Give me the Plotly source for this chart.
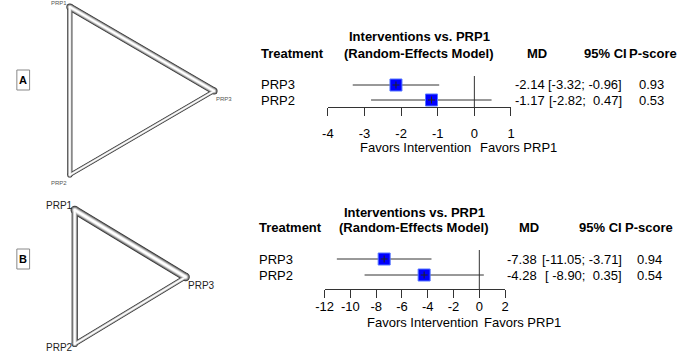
import plotly.graph_objects as go

W, H = 685, 354

# ---------------- data ----------------
treatments = ["PRP3", "PRP2"]
row_pos = [2, 1]

md_a = [-2.14, -1.17]
lo_a = [-3.32, -2.82]
hi_a = [-0.96, 0.47]
pscore_a = [0.93, 0.53]
ticks_a = [-4, -3, -2, -1, 0, 1]
ticklabels_a = ["-4", "-3", "-2", "-1", "0", "1"]

md_b = [-7.38, -4.28]
lo_b = [-11.05, -8.90]
hi_b = [-3.71, 0.35]
pscore_b = [0.94, 0.54]
ticks_b = [-12, -10, -8, -6, -4, -2, 0, 2]
ticklabels_b = ["-12", "-10", "-8", "-6", "-4", "-2", "0", "2"]

nodes = ["PRP1", "PRP2", "PRP3"]
node_x = [0.0, 0.0, 0.866]
node_y = [0.5, -0.5, 0.0]
edges = [(0, 2), (0, 1), (1, 2)]
edge_w_a = [7.0, 5.2, 3.8]
edge_w_b = [8.4, 6.2, 4.6]

# ---------------- helpers ----------------
def px(x):
    return x / W

def py(y):
    return 1 - y / H

def axis_from_pixels(p0, p1, v0, v1, d0, d1):
    s = (v1 - v0) / (p1 - p0)
    return [v0 + (d0 - p0) * s, v0 + (d1 - p0) * s]

FONT = "Liberation Sans, Arial, sans-serif"
fig = go.Figure()
ann = []
shapes = []

def fmt_col(vals):
    s = [f"{v:.2f}" for v in vals]
    w = max(len(t) for t in s)
    return [t.rjust(w) for t in s]

def forest(xa, ya, md, lo, hi, ps, ticks, tlabels, xdom_px, ydom_px, rowpx,
           zero_top_px, standoff, cols):
    xr = [ticks[0], ticks[-1]]
    yr = axis_from_pixels(rowpx[0], rowpx[1], 2, 1, ydom_px[1], ydom_px[0])
    zero_top = yr[0] + (zero_top_px - ydom_px[1]) * (yr[1] - yr[0]) / (ydom_px[0] - ydom_px[1])
    xs = "x" + ("" if xa == 1 else str(xa))
    ys = "y" + ("" if ya == 1 else str(ya))
    fig.add_trace(go.Scatter(x=[0, 0], y=[zero_top, yr[0]], mode="lines",
                             line=dict(color="#333333", width=1), xaxis=xs, yaxis=ys,
                             hoverinfo="skip", showlegend=False, cliponaxis=False))
    for i in range(len(md)):
        fig.add_trace(go.Scatter(x=[lo[i], hi[i]], y=[row_pos[i]] * 2, mode="lines",
                                 line=dict(color="#333333", width=1), xaxis=xs, yaxis=ys,
                                 showlegend=False, cliponaxis=False))
    fig.add_trace(go.Scatter(x=md, y=row_pos, mode="markers",
                             marker=dict(symbol="square", size=12, color="#0000ff",
                                         line=dict(color="#5577ff", width=1)),
                             xaxis=xs, yaxis=ys, showlegend=False, cliponaxis=False))
    fig.add_trace(go.Scatter(x=md, y=row_pos, mode="markers",
                             marker=dict(symbol="cross-thin", size=5,
                                         line=dict(color="#222222", width=1)),
                             xaxis=xs, yaxis=ys, showlegend=False, cliponaxis=False))
    axname = "xaxis" + ("" if xa == 1 else str(xa))
    yname = "yaxis" + ("" if ya == 1 else str(ya))
    fig.update_layout(**{
        axname: dict(domain=[px(xdom_px[0]), px(xdom_px[1])], range=xr, anchor=ys,
                     showgrid=False, zeroline=False, showline=True, linecolor="#333333",
                     linewidth=1, ticks="outside", ticklen=8, tickcolor="#333333",
                     tickvals=ticks, ticktext=tlabels, ticklabelstandoff=standoff,
                     tickfont=dict(family=FONT, size=13, color="#000000"), fixedrange=True),
        yname: dict(domain=[py(ydom_px[1]), py(ydom_px[0])], range=yr, anchor=xs,
                    visible=False, fixedrange=True),
    })
    tr_x, title_x, title_y1, title_y2, md_x, ci_x, ps_x, val_md_x, val_ci_x, val_ps_x, fav1_x, fav2_x, fav_y = cols
    bold = dict(family=FONT, size=13, color="#000000")
    reg = dict(family=FONT, size=13, color="#000000")
    def A(x, y, t, xa_="left", f=reg):
        ann.append(dict(x=px(x), y=py(y), xref="paper", yref="paper", text=t, showarrow=False,
                        xanchor=xa_, yanchor="middle", font=f))
    A(tr_x, title_y2, "<b>Treatment</b>", f=bold)
    A(title_x, title_y1, "<b>Interventions vs. PRP1</b>", "center", bold)
    A(title_x, title_y2, "<b>(Random-Effects Model)</b>", "center", bold)
    A(md_x, title_y2, "<b>MD</b>", "center", bold)
    A(ci_x, title_y2, "<b>95% CI</b>", "right", bold)
    A(ps_x, title_y2, "<b>P-score</b>", "right", bold)
    mds = fmt_col(md)
    los = fmt_col(lo)
    his = fmt_col(hi)
    for i in range(len(md)):
        yy = rowpx[i]
        A(tr_x, yy, treatments[i])
        A(val_md_x, yy, mds[i].replace(" ", "\u00a0"), "right")
        A(val_ci_x, yy, f"[{los[i]}; {his[i]}]".replace(" ", "\u00a0"), "right")
        A(val_ps_x, yy, f"{ps[i]:.2f}", "right")
    A(fav1_x, fav_y, "Favors Intervention", "center", reg)
    A(fav2_x, fav_y, "Favors PRP1", "center", reg)


forest(1, 1, md_a, lo_a, hi_a, pscore_a, ticks_a, ticklabels_a,
       xdom_px=(325, 511.7), ydom_px=(70, 107), rowpx=(85, 100), zero_top_px=76, standoff=6,
       cols=(255, 418, 37, 53, 538, 632, 683, 548, 627, 670, 414, 519, 148))
forest(2, 2, md_b, lo_b, hi_b, pscore_b, ticks_b, ticklabels_b,
       xdom_px=(321.7, 505.7), ydom_px=(245, 289), rowpx=(259, 275), zero_top_px=250, standoff=-3,
       cols=(253, 413, 213, 228, 530, 627, 679, 540, 627, 668, 421, 523, 322))


TUBE = [(1.0, "#2f2f2f"), (0.82, "#6e6e6e"), (0.64, "#a6a6a6"), (0.46, "#d8d8d8"), (0.28, "#ffffff")]

def network(xa, ya, ew, pA, pB, pC, xdom_px, ydom_px, lab_font, lab_shift, lab_color):
    xr = axis_from_pixels(pA[0], pC[0], node_x[0], node_x[2], xdom_px[0], xdom_px[1])
    yr = axis_from_pixels(pA[1], pB[1], node_y[0], node_y[1], ydom_px[1], ydom_px[0])
    xs = "x" + str(xa)
    ys = "y" + str(ya)
    for frac, col in TUBE:
        for k, (i, j) in enumerate(edges):
            ww = ew[k] * frac
            fig.add_trace(go.Scatter(x=[node_x[i], node_x[j]], y=[node_y[i], node_y[j]],
                                     mode="lines+markers", line=dict(color=col, width=ww),
                                     marker=dict(symbol="circle", size=ww, color=col,
                                                 line=dict(width=0)),
                                     xaxis=xs, yaxis=ys, showlegend=False, hoverinfo="skip",
                                     cliponaxis=False))
    fig.update_layout(**{
        "xaxis" + str(xa): dict(domain=[px(xdom_px[0]), px(xdom_px[1])], range=xr, visible=False,
                                anchor=ys, fixedrange=True),
        "yaxis" + str(ya): dict(domain=[py(ydom_px[1]), py(ydom_px[0])], range=yr, visible=False,
                                anchor=xs, fixedrange=True),
    })
    for n in range(3):
        ann.append(dict(x=node_x[n], y=node_y[n], xref=xs, yref=ys, text=nodes[n], showarrow=False,
                        xshift=lab_shift[n][0], yshift=lab_shift[n][1],
                        xanchor="center", yanchor="middle",
                        font=dict(family=FONT, size=lab_font, color=lab_color)))


network(3, 3, edge_w_a, (62, 7), (63, 175), (209, 91), (25, 240), (0, 190), 6,
        [(-11, 4), (-11, -8), (10, -8)], "#555555")
network(4, 4, edge_w_b, (67, 210), (67, 344), (180, 276), (25, 240), (196, 354), 10,
        [(-15, 5), (-15, -3), (16, -8)], "#222222")

for lab, (x0, y0, x1, y1) in (("A", (8, 70, 21, 90)), ("B", (8, 249, 21, 269))):
    shapes.append(dict(type="rect", xref="paper", yref="paper", x0=px(x0), x1=px(x1),
                       y0=py(y1), y1=py(y0), line=dict(color="#888888", width=1)))
    ann.append(dict(x=px((x0 + x1) / 2), y=py((y0 + y1) / 2), xref="paper", yref="paper",
                    text=f"<b>{lab}</b>", showarrow=False, xanchor="center", yanchor="middle",
                    font=dict(family=FONT, size=11, color="#000000")))

fig.update_layout(width=W, height=H, margin=dict(l=0, r=0, t=0, b=0),
                  paper_bgcolor="white", plot_bgcolor="rgba(0,0,0,0)",
                  annotations=ann, shapes=shapes, showlegend=False)
fig.write_html("out.html", config={"displayModeBar": False},
               post_script="document.body.style.margin='0';document.body.style.overflow='hidden';")
